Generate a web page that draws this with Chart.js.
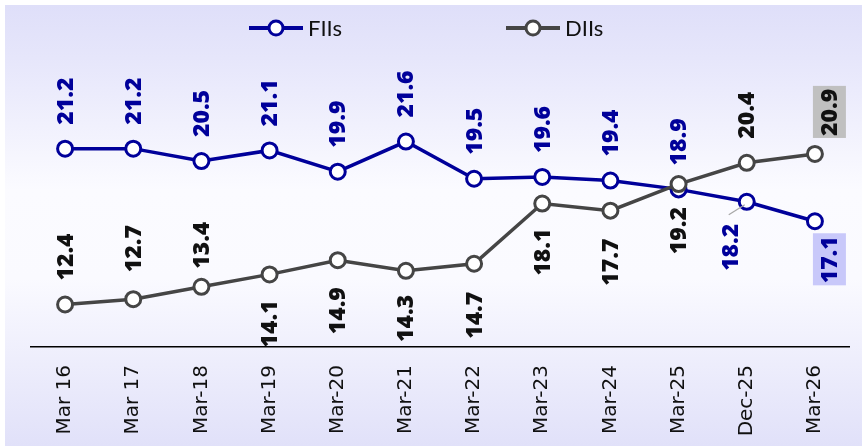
<!DOCTYPE html>
<html>
<head>
<meta charset="utf-8">
<script src="https://cdn.jsdelivr.net/npm/chart.js@4/dist/chart.umd.min.js"></script>
<style>
  body { margin: 0; background: #fff; }
  canvas { display: block; }
</style>
</head>
<body>
<canvas id="ownershipChart" width="862" height="446"></canvas>
<script>
const categories = ['Mar 16', 'Mar 17', 'Mar-18', 'Mar-19', 'Mar-20', 'Mar-21', 'Mar-22', 'Mar-23', 'Mar-24', 'Mar-25', 'Dec-25', 'Mar-26'];
const fiiShare = [21.2, 21.2, 20.5, 21.1, 19.9, 21.6, 19.5, 19.6, 19.4, 18.9, 18.2, 17.1];
const diiShare = [12.4, 12.7, 13.4, 14.1, 14.9, 14.3, 14.7, 18.1, 17.7, 19.2, 20.4, 20.9];

// which side of the point each value label sits on
const fiiLabelSide = ['up', 'up', 'up', 'up', 'up', 'up', 'up', 'up', 'up', 'up', 'down', 'down'];
const diiLabelSide = ['up', 'up', 'up', 'down', 'down', 'down', 'down', 'down', 'down', 'down', 'up', 'up'];

const FII_BLUE = '#00009a';
const DII_GREY = '#454545';

const fiiLabels = {
    color: FII_BLUE,
    side: fiiLabelSide,
    gap: {10: 22, 11: 15},
    dx: {10: -16, 11: 15},
    box: {11: '#c8c8fa'},
    leader: {10: true}
};
const diiLabels = {
    color: '#111111',
    side: diiLabelSide,
    gap: {1: 27, 2: 18, 3: 26, 4: 27, 6: 28, 7: 25, 8: 28, 9: 23, 11: 18},
    dx: {11: 15},
    box: {11: '#c0c0c0'},
    leader: {}
};

// panel background: lavender at top and bottom, near white through the middle
const panelBackground = {
    id: 'panelBackground',
    beforeDraw(chart) {
        const ctx = chart.ctx;
        const g = ctx.createLinearGradient(0, 5, 0, chart.height);
        g.addColorStop(0, '#dfdff9');
        g.addColorStop(0.12, '#e6e6fb');
        g.addColorStop(0.42, '#fbfbff');
        g.addColorStop(0.62, '#fafaff');
        g.addColorStop(1, '#e1e1f9');
        ctx.save();
        ctx.fillStyle = g;
        ctx.fillRect(5, 5, chart.width - 5, chart.height - 5);
        ctx.restore();
    }
};

// rotated value labels next to every point
const valueLabels = {
    id: 'valueLabels',
    afterDatasetsDraw(chart) {
        const ctx = chart.ctx;
        chart.data.datasets.forEach((ds, di) => {
            const meta = chart.getDatasetMeta(di);
            const cfg = ds.labelCfg;
            meta.data.forEach((pt, i) => {
                const text = ds.data[i].toFixed(1);
                const gap = cfg.gap[i] !== undefined ? cfg.gap[i] : 24;
                const dx = cfg.dx[i] || 0;
                ctx.save();
                if (cfg.leader[i]) {
                    ctx.strokeStyle = '#a6a6a6';
                    ctx.lineWidth = 1.2;
                    ctx.beginPath();
                    ctx.moveTo(pt.x - 2, pt.y + 3);
                    ctx.lineTo(pt.x - 18, pt.y + 13);
                    ctx.stroke();
                }
                ctx.font = '800 23px "Open Sans", Lato, sans-serif';
                const w = ctx.measureText(text).width;
                ctx.translate(pt.x + dx, pt.y);
                ctx.rotate(-Math.PI / 2);
                const x0 = cfg.side[i] === 'up' ? gap : -gap - w;
                if (cfg.box[i]) {
                    ctx.fillStyle = cfg.box[i];
                    ctx.fillRect(x0 - 2, -17, w + 5, 33);
                }
                ctx.fillStyle = cfg.color;
                ctx.textAlign = 'left';
                ctx.textBaseline = 'middle';
                ctx.fillText(text, x0, 1);
                ctx.restore();
            });
        });
    }
};

// legend drawn inside the plot: line with hollow marker, then the name
const lineLegend = {
    id: 'lineLegend',
    afterDraw(chart) {
        const ctx = chart.ctx;
        const items = [
            {x: 276, ds: chart.data.datasets[0]},
            {x: 533, ds: chart.data.datasets[1]}
        ];
        const y = 28;
        items.forEach(it => {
            ctx.save();
            ctx.strokeStyle = it.ds.borderColor;
            ctx.lineWidth = 4;
            ctx.beginPath();
            ctx.moveTo(it.x - 27, y);
            ctx.lineTo(it.x + 27, y);
            ctx.stroke();
            ctx.beginPath();
            ctx.arc(it.x, y, 7, 0, Math.PI * 2);
            ctx.fillStyle = '#ffffff';
            ctx.fill();
            ctx.lineWidth = 3;
            ctx.stroke();
            ctx.fillStyle = '#111111';
            ctx.font = '22px Lato';
            ctx.textAlign = 'left';
            ctx.textBaseline = 'middle';
            ctx.fillText(it.ds.label, it.x + 32, y + 1);
            ctx.restore();
        });
    }
};

new Chart(document.getElementById('ownershipChart').getContext('2d'), {
    type: 'line',
    data: {
        labels: categories,
        datasets: [{
            label: 'FIIs',
            data: fiiShare,
            borderColor: FII_BLUE,
            borderWidth: 3.5,
            pointRadius: 7.5,
            pointBorderWidth: 3,
            pointBackgroundColor: '#ffffff',
            pointBorderColor: FII_BLUE,
            tension: 0,
            order: 2,
            labelCfg: fiiLabels
        }, {
            label: 'DIIs',
            data: diiShare,
            borderColor: DII_GREY,
            borderWidth: 3.5,
            pointRadius: 7.5,
            pointBorderWidth: 3,
            pointBackgroundColor: '#ffffff',
            pointBorderColor: DII_GREY,
            tension: 0,
            order: 1,
            labelCfg: diiLabels
        }]
    },
    options: {
        responsive: false,
        devicePixelRatio: 1,
        animation: false,
        layout: {
            padding: {left: 31, right: 13, top: 6, bottom: 0}
        },
        scales: {
            x: {
                offset: true,
                grid: {display: false, drawTicks: false},
                border: {display: true, color: '#000000', width: 1.5},
                ticks: {
                    autoSkip: false,
                    minRotation: 90,
                    maxRotation: 90,
                    padding: 18,
                    color: '#111111',
                    font: {family: "'DejaVu Sans', Verdana, sans-serif", size: 20}
                },
                afterFit(scale) {
                    scale.height = 99;
                }
            },
            y: {
                display: false,
                min: 10,
                max: 29
            }
        },
        plugins: {
            legend: {display: false},
            tooltip: {enabled: false}
        }
    },
    plugins: [panelBackground, valueLabels, lineLegend]
});
</script>
</body>
</html>
